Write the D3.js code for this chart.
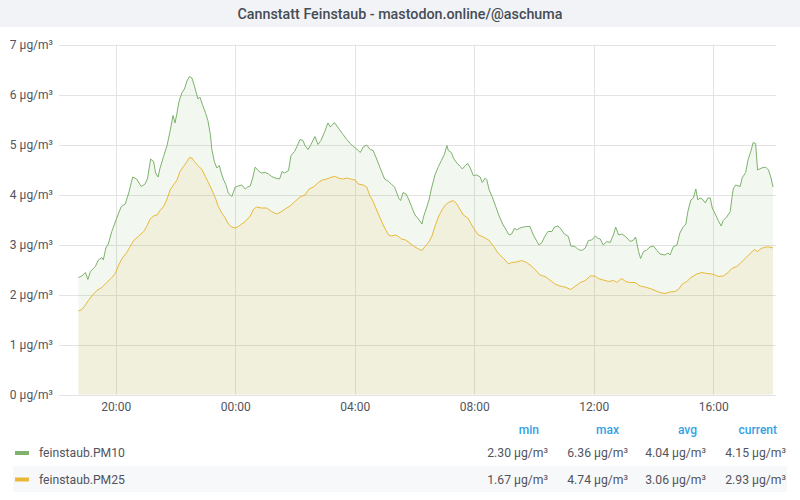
<!DOCTYPE html>
<html>
<head>
<meta charset="utf-8">
<script src="https://cdnjs.cloudflare.com/ajax/libs/d3/7.8.5/d3.min.js"></script>
<style>
  body { margin: 0; background: #fff; font-family: Roboto, "Noto Sans", sans-serif; }
  svg text { font-family: Roboto, "Noto Sans", sans-serif; }
</style>
</head>
<body>
<svg id="chart" width="800" height="500"></svg>
<script>
// times are minutes after 18:00 on the first day
var pm10 = [
  [45, 2.34], [52, 2.37], [59, 2.44], [64, 2.30], [69, 2.46], [79, 2.56], [85, 2.69], [92, 2.74], [95, 2.69],
  [100, 2.93], [105, 3.01], [112, 3.26], [122, 3.53], [131, 3.76], [139, 3.81], [146, 4.03], [154, 4.35],
  [162, 4.31], [171, 4.16], [179, 4.21], [184, 4.33], [190, 4.71], [196, 4.66], [200, 4.43], [205, 4.35],
  [209, 4.53], [216, 4.76], [223, 4.98], [229, 5.26], [235, 5.58], [239, 5.43], [243, 5.63], [247, 5.86],
  [253, 6.04], [258, 6.11], [263, 6.27], [268, 6.36], [273, 6.33], [278, 6.17], [285, 5.91], [289, 5.95],
  [294, 5.80], [300, 5.64], [305, 5.48], [310, 5.20], [313, 4.90], [318, 4.66], [323, 4.53], [328, 4.58],
  [332, 4.43], [336, 4.31], [341, 4.20], [346, 4.03], [353, 3.96], [360, 4.15], [366, 4.17], [373, 4.19],
  [380, 4.11], [385, 4.15], [390, 4.17], [395, 4.33], [400, 4.55], [405, 4.49], [412, 4.43], [420, 4.44],
  [427, 4.41], [433, 4.36], [440, 4.33], [449, 4.31], [454, 4.46], [459, 4.43], [467, 4.48], [472, 4.78],
  [479, 4.86], [484, 4.96], [490, 5.10], [496, 5.08], [500, 4.98], [506, 4.90], [512, 5.00], [520, 5.16],
  [526, 5.00], [532, 5.08], [539, 5.24], [546, 5.43], [551, 5.35], [559, 5.44], [567, 5.33], [575, 5.22],
  [584, 5.10], [591, 5.02], [597, 4.96], [604, 4.91], [611, 4.84], [617, 4.95], [624, 4.99], [631, 4.90],
  [637, 4.88], [644, 4.71], [651, 4.53], [660, 4.31], [668, 4.26], [674, 4.20], [680, 4.15], [688, 3.93],
  [692, 3.88], [697, 4.04], [703, 4.01], [708, 3.91], [714, 3.76], [721, 3.59], [728, 3.51], [735, 3.41],
  [738, 3.55], [745, 3.76], [749, 3.89], [755, 4.16], [761, 4.39], [768, 4.56], [774, 4.68], [780, 4.80],
  [785, 4.98], [788, 4.88], [794, 4.84], [798, 4.73], [805, 4.63], [812, 4.56], [816, 4.51], [822, 4.58],
  [827, 4.62], [832, 4.53], [838, 4.38], [845, 4.39], [852, 4.35], [856, 4.24], [862, 4.33], [865, 4.30],
  [870, 4.09], [877, 3.93], [883, 3.76], [890, 3.57], [897, 3.41], [903, 3.31], [910, 3.19], [915, 3.21],
  [921, 3.33], [925, 3.29], [932, 3.33], [939, 3.35], [945, 3.36], [952, 3.36], [957, 3.23], [962, 3.13],
  [970, 2.99], [976, 3.04], [981, 3.15], [988, 3.26], [996, 3.26], [1001, 3.35], [1008, 3.37], [1014, 3.31],
  [1021, 3.21], [1029, 3.16], [1034, 2.97], [1042, 2.96], [1049, 2.90], [1056, 2.88], [1063, 2.93],
  [1069, 3.08], [1076, 3.09], [1083, 3.17], [1088, 3.13], [1093, 3.11], [1099, 2.99], [1106, 3.06],
  [1113, 3.04], [1120, 3.21], [1124, 3.35], [1130, 3.19], [1136, 3.21], [1144, 3.16], [1153, 3.06],
  [1160, 3.09], [1164, 3.15], [1170, 2.86], [1174, 2.72], [1180, 2.86], [1186, 2.89], [1193, 2.95],
  [1200, 2.97], [1207, 2.88], [1213, 2.81], [1223, 2.79], [1229, 2.83], [1233, 2.79], [1240, 2.96],
  [1247, 2.99], [1253, 3.23], [1260, 3.36], [1265, 3.41], [1269, 3.66], [1275, 3.89], [1280, 3.93],
  [1285, 4.11], [1289, 3.89], [1293, 3.93], [1298, 3.91], [1304, 3.83], [1309, 3.93], [1314, 3.93],
  [1318, 3.73], [1325, 3.59], [1330, 3.48], [1336, 3.37], [1340, 3.48], [1347, 3.55], [1354, 3.66],
  [1357, 3.89], [1360, 4.11], [1365, 4.19], [1374, 4.16], [1378, 4.33], [1385, 4.44], [1390, 4.70],
  [1396, 4.88], [1400, 5.04], [1405, 5.02], [1409, 4.49], [1417, 4.53], [1425, 4.55], [1431, 4.49],
  [1436, 4.33], [1440, 4.15]
];

var pm25 = [
  [45, 1.67], [52, 1.70], [59, 1.79], [65, 1.88], [72, 1.97], [82, 2.08], [92, 2.14], [102, 2.24], [112, 2.34],
  [119, 2.42], [126, 2.59], [132, 2.71], [142, 2.84], [149, 2.96], [156, 3.08], [166, 3.17], [176, 3.26],
  [182, 3.36], [189, 3.51], [196, 3.57], [203, 3.59], [209, 3.68], [216, 3.76], [223, 3.91], [229, 4.09],
  [236, 4.19], [243, 4.29], [249, 4.46], [256, 4.56], [263, 4.66], [268, 4.74], [273, 4.73], [278, 4.66],
  [285, 4.58], [293, 4.50], [300, 4.36], [306, 4.24], [313, 4.09], [320, 3.93], [326, 3.76], [333, 3.63],
  [340, 3.53], [346, 3.41], [353, 3.35], [360, 3.33], [366, 3.36], [373, 3.41], [380, 3.46], [390, 3.57],
  [397, 3.71], [403, 3.75], [413, 3.73], [423, 3.73], [433, 3.66], [443, 3.61], [450, 3.64], [460, 3.71],
  [470, 3.77], [480, 3.86], [490, 3.95], [500, 3.99], [508, 4.11], [517, 4.15], [527, 4.24], [535, 4.29],
  [544, 4.31], [554, 4.35], [561, 4.36], [569, 4.32], [577, 4.31], [584, 4.33], [591, 4.31], [601, 4.29],
  [607, 4.21], [617, 4.19], [624, 4.15], [631, 3.96], [637, 3.86], [644, 3.69], [651, 3.53], [658, 3.37],
  [668, 3.19], [674, 3.17], [682, 3.19], [689, 3.15], [694, 3.11], [702, 3.09], [709, 3.04], [718, 2.97],
  [728, 2.91], [735, 2.88], [741, 2.96], [748, 3.04], [755, 3.17], [761, 3.36], [768, 3.55], [775, 3.69],
  [782, 3.79], [788, 3.84], [798, 3.88], [805, 3.81], [812, 3.69], [818, 3.59], [827, 3.53], [835, 3.39],
  [842, 3.28], [848, 3.19], [858, 3.15], [869, 3.09], [879, 2.96], [889, 2.81], [899, 2.72], [909, 2.61],
  [915, 2.64], [925, 2.65], [935, 2.68], [945, 2.64], [955, 2.57], [962, 2.50], [972, 2.39], [982, 2.36],
  [992, 2.29], [1002, 2.21], [1012, 2.17], [1022, 2.15], [1034, 2.10], [1042, 2.16], [1053, 2.24],
  [1063, 2.28], [1073, 2.37], [1083, 2.37], [1089, 2.32], [1099, 2.29], [1110, 2.26], [1120, 2.28],
  [1126, 2.24], [1136, 2.32], [1144, 2.26], [1153, 2.24], [1163, 2.24], [1173, 2.17], [1183, 2.15],
  [1193, 2.12], [1203, 2.08], [1213, 2.04], [1223, 2.02], [1233, 2.05], [1243, 2.06], [1250, 2.10],
  [1258, 2.21], [1267, 2.26], [1273, 2.32], [1280, 2.37], [1287, 2.41], [1297, 2.44], [1307, 2.42],
  [1317, 2.41], [1324, 2.39], [1330, 2.36], [1340, 2.37], [1350, 2.44], [1357, 2.52], [1367, 2.56],
  [1374, 2.62], [1384, 2.72], [1394, 2.82], [1403, 2.90], [1409, 2.86], [1416, 2.92], [1425, 2.95],
  [1434, 2.95], [1440, 2.93]
];

var seriesNames = ["feinstaub.PM10", "feinstaub.PM25"];
var seriesColors = ["#7eb26d", "#eab839"];
var statNames = ["min", "max", "avg", "current"];
var pm10Stats = [2.30, 6.36, 4.04, 4.15];
var pm25Stats = [1.67, 4.74, 3.06, 2.93];
var yTicks = [0, 1, 2, 3, 4, 5, 6, 7];
var title = "Cannstatt Feinstaub - mastodon.online/@aschuma";

var svg = d3.select("#chart");
var base = new Date(2021, 0, 1, 18, 0);
function toDate(m) { return new Date(base.getTime() + m * 60000); }

// title bar
svg.append("rect").attr("x", 0).attr("y", 0).attr("width", 800).attr("height", 27).attr("fill", "#f1f3f7");
svg.append("text")
   .attr("x", 400).attr("y", 19)
   .attr("text-anchor", "middle")
   .attr("font-size", "14.3px")
   .attr("font-weight", 500)
   .attr("fill", "#464c54")
   .text(title);

var plotLeft = 59, plotRight = 776, plotTop = 44.5, plotBottom = 394.5;
var x = d3.scaleTime()
    .domain([toDate(6), toDate(1446)])
    .range([plotLeft, plotRight]);
var y = d3.scaleLinear().domain([0, 7]).range([plotBottom, plotTop]);

// grid
var grid = svg.append("g");
grid.selectAll(".hg").data(yTicks).enter().append("line")
    .attr("x1", plotLeft).attr("x2", plotRight)
    .attr("y1", function(d) { return Math.round(y(d)) + 0.5; })
    .attr("y2", function(d) { return Math.round(y(d)) + 0.5; })
    .attr("stroke", "#e3e3e3");
var xTicks = x.ticks(d3.timeHour.every(4));
grid.selectAll(".vg").data(xTicks).enter().append("line")
    .attr("x1", function(d) { return Math.round(x(d)) + 0.5; })
    .attr("x2", function(d) { return Math.round(x(d)) + 0.5; })
    .attr("y1", plotTop).attr("y2", plotBottom)
    .attr("stroke", "#e3e3e3");

// axes
var yAxis = svg.append("g")
    .attr("transform", "translate(" + (plotLeft - 6) + ",0)")
    .call(d3.axisLeft(y).tickValues(yTicks).tickSize(0).tickPadding(0)
          .tickFormat(function(d) { return d + " µg/m³"; }));
var xAxis = svg.append("g")
    .attr("transform", "translate(0," + (plotBottom + 6) + ")")
    .call(d3.axisBottom(x).ticks(d3.timeHour.every(4)).tickSize(0).tickPadding(0)
          .tickFormat(d3.timeFormat("%H:%M")));
[yAxis, xAxis].forEach(function(a) {
    a.select(".domain").remove();
    a.selectAll("text").attr("font-size", "12px").attr("fill", "#52545c")
     .style("font-family", "Roboto, sans-serif");
});
xAxis.selectAll("text").attr("dy", "0.9em");

// series
var area = d3.area()
    .x(function(d) { return x(toDate(d[0])); })
    .y0(y(0))
    .y1(function(d) { return y(d[1]); });
var line = d3.line()
    .x(function(d) { return x(toDate(d[0])); })
    .y(function(d) { return y(d[1]); });

[pm10, pm25].forEach(function(s, i) {
    svg.append("path").datum(s)
       .attr("d", area)
       .attr("fill", seriesColors[i])
       .attr("fill-opacity", 0.1);
    svg.append("path").datum(s)
       .attr("d", line)
       .attr("fill", "none")
       .attr("stroke", seriesColors[i])
       .attr("stroke-width", 1);
});

// legend table
var colRight = [548, 628, 706, 786];
var legend = svg.append("g");
legend.selectAll(".hdr").data(statNames).enter().append("text")
    .attr("x", function(d, i) { return colRight[i] - 9; })
    .attr("y", 434)
    .attr("text-anchor", "end")
    .attr("font-size", "12px")
    .attr("font-weight", 500)
    .attr("fill", "#33a2e5")
    .text(function(d) { return d; });

legend.append("rect")
    .attr("x", 13).attr("y", 466).attr("width", 774).attr("height", 26)
    .attr("fill", "#f7f8fa");

[pm10Stats, pm25Stats].forEach(function(stats, i) {
    var cy = 453 + i * 26.5;
    legend.append("rect")
        .attr("x", 15).attr("y", cy - 2).attr("width", 14).attr("height", 4)
        .attr("fill", seriesColors[i]);
    legend.append("text")
        .attr("x", 39).attr("y", cy + 4.3)
        .attr("font-size", "12.2px")
        .attr("fill", "#52545c")
        .text(seriesNames[i]);
    legend.selectAll(".v" + i).data(stats).enter().append("text")
        .attr("x", function(d, j) { return colRight[j]; })
        .attr("y", cy + 4.3)
        .attr("text-anchor", "end")
        .attr("font-size", "12.2px")
        .attr("fill", "#52545c")
        .text(function(d) { return d.toFixed(2) + " µg/m³"; });
});
</script>
</body>
</html>
